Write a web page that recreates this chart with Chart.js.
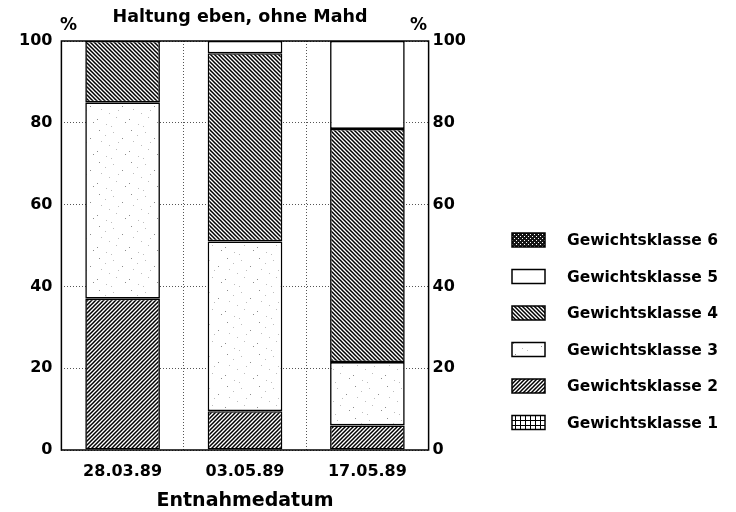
<!DOCTYPE html>
<html>
<head>
<meta charset="utf-8">
<script src="https://cdn.jsdelivr.net/npm/chart.js@4"></script>
<style>
  html, body { margin: 0; padding: 0; background: #fff; }
  canvas { display: block; }
</style>
</head>
<body>
<canvas id="chart" width="736" height="512"></canvas>
<script>
//  Data (percent per weight class)
const dates    = ['28.03.89', '03.05.89', '17.05.89'];
const klasse1  = [0, 0, 0];
const klasse2  = [37, 9.5, 6];
const klasse3  = [48, 41.5, 15.5];
const klasse4  = [15, 46, 57];
const klasse5  = [0, 3, 21.5];
const klasse6  = [0, 0, 0];
const yTicks   = [0, 20, 40, 60, 80, 100];

const FONT = "'DejaVu Sans', sans-serif";
const canvas = document.getElementById('chart');
const ctx    = canvas.getContext('2d');

//  Fill patterns (hatching like the printed original)
function makePattern(kind) {
  const size = kind === 'stipple' ? 32 : (kind === 'grid' ? 5 : 4);
  const tile = document.createElement('canvas');
  tile.width = size;
  tile.height = size;
  const g = tile.getContext('2d');
  g.fillStyle = '#fff';
  g.fillRect(0, 0, size, size);
  g.strokeStyle = '#000';
  if (kind === 'slash' || kind === 'backslash') {
    g.lineWidth = 1.5;
    g.beginPath();
    if (kind === 'slash') {
      g.moveTo(-1, size + 1); g.lineTo(size + 1, -1);
      g.moveTo(-1, 1);        g.lineTo(1, -1);
      g.moveTo(size - 1, size + 1); g.lineTo(size + 1, size - 1);
    } else {
      g.moveTo(-1, -1); g.lineTo(size + 1, size + 1);
      g.moveTo(size - 1, -1); g.lineTo(size + 1, 1);
      g.moveTo(-1, size - 1); g.lineTo(1, size + 1);
    }
    g.stroke();
  } else if (kind === 'stipple') {
    const dots = [[3,2],[17,4],[9,7],[26,10],[5,13],[13,17],[1,23],[20,21],[10,28],[29,26],[22,14],[15,30]];
    dots.forEach(([x, y], i) => {
      g.fillStyle = i % 3 ? '#bdbdbd' : '#8c8c8c';
      g.fillRect(x, y, 1, 1);
    });
  } else if (kind === 'cross') {
    g.fillStyle = '#151515';
    g.fillRect(0, 0, size, size);
    g.fillStyle = '#fff';
    g.fillRect(0, 0, 1, 1);
    g.fillRect(2, 2, 1, 1);
  } else if (kind === 'grid') {
    g.fillStyle = '#000';
    g.fillRect(0, 0, size, 1);
    g.fillRect(0, 0, 1, size);
  }
  return kind === 'white' ? '#fff' : ctx.createPattern(tile, 'repeat');
}

function series(label, data, kind) {
  return {
    label:           label,
    data:            data,
    backgroundColor: makePattern(kind),
    borderColor:     '#000',
    borderWidth:     1.6,
    borderSkipped:   false,
    barPercentage:   0.61,
    categoryPercentage: 1,
  };
}

//  Frame, "%" marks and legend
const extrasPlugin = {
  id: 'extras',
  afterDatasetsDraw(chart) {
    const {ctx, chartArea: a} = chart;
    ctx.save();
    ctx.strokeStyle = '#000';
    ctx.lineWidth = 1.5;
    ctx.strokeRect(a.left, a.top, a.right - a.left, a.bottom - a.top);
    ctx.restore();
  },
  afterDraw(chart) {
    const {ctx, chartArea: a} = chart;
    ctx.save();
    ctx.fillStyle = '#000';
    ctx.font = 'bold 17px ' + FONT;
    ctx.textAlign = 'center';
    ctx.textBaseline = 'alphabetic';
    ctx.fillText('%', a.left + 7, a.top - 11);
    ctx.fillText('%', a.right - 10, a.top - 11);

    // legend, highest class on top
    const boxX = 512, firstY = 240, step = 36.5, boxW = 33, boxH = 14;
    ctx.font = 'bold 15.5px ' + FONT;
    ctx.textAlign = 'left';
    ctx.textBaseline = 'middle';
    const items = chart.data.datasets.slice().reverse();
    items.forEach((ds, i) => {
      const cy = firstY + i * step;
      ctx.fillStyle = ds.backgroundColor;
      ctx.fillRect(boxX, cy - boxH / 2, boxW, boxH);
      ctx.strokeStyle = '#000';
      ctx.lineWidth = 1.5;
      ctx.strokeRect(boxX, cy - boxH / 2, boxW, boxH);
      ctx.fillStyle = '#000';
      ctx.fillText(ds.label, boxX + boxW + 22, cy + 1);
    });
    ctx.restore();
  }
};

const tickFont = { family: FONT, size: 16, weight: 'bold' };

new Chart(canvas, {
  type: 'bar',
  data: {
    labels: dates,
    datasets: [
      series('Gewichtsklasse 1', klasse1, 'grid'),
      series('Gewichtsklasse 2', klasse2, 'slash'),
      series('Gewichtsklasse 3', klasse3, 'stipple'),
      series('Gewichtsklasse 4', klasse4, 'backslash'),
      series('Gewichtsklasse 5', klasse5, 'white'),
      series('Gewichtsklasse 6', klasse6, 'cross'),
    ]
  },
  options: {
    responsive: false,
    animation: false,
    layout: { padding: { left: 10, right: 266, top: 0, bottom: 0 } },
    scales: {
      x: {
        stacked: true,
        offset: true,
        grid:   { offset: true, color: '#555', lineWidth: 1, drawTicks: false },
        border: { display: false, dash: [1, 2] },
        ticks:  { color: '#000', font: tickFont, padding: 12, maxRotation: 0 },
        title:  { display: true, text: 'Entnahmedatum', color: '#000',
                  font: { family: FONT, size: 19, weight: 'bold' }, padding: { top: -4, bottom: 0 } },
      },
      y: {
        stacked: true,
        min: 0,
        max: 100,
        position: 'left',
        afterBuildTicks: s => { s.ticks = yTicks.map(v => ({ value: v })); },
        grid:   { color: '#555', lineWidth: 1, drawTicks: false },
        border: { display: false, dash: [1, 2] },
        ticks:  { color: '#000', font: tickFont, padding: 9 },
      },
      y2: {
        min: 0,
        max: 100,
        position: 'right',
        afterBuildTicks: s => { s.ticks = yTicks.map(v => ({ value: v })); },
        grid:   { display: false, drawTicks: false },
        border: { display: false },
        ticks:  { color: '#000', font: tickFont, padding: 4 },
      }
    },
    plugins: {
      legend:  { display: false },
      tooltip: { enabled: false },
      title: {
        display: true,
        text: 'Haltung eben, ohne Mahd',
        color: '#000',
        font: { family: FONT, size: 17.5, weight: 'bold' },
        padding: { top: 7, bottom: 13 },
      }
    }
  },
  plugins: [extrasPlugin]
});
</script>
</body>
</html>
